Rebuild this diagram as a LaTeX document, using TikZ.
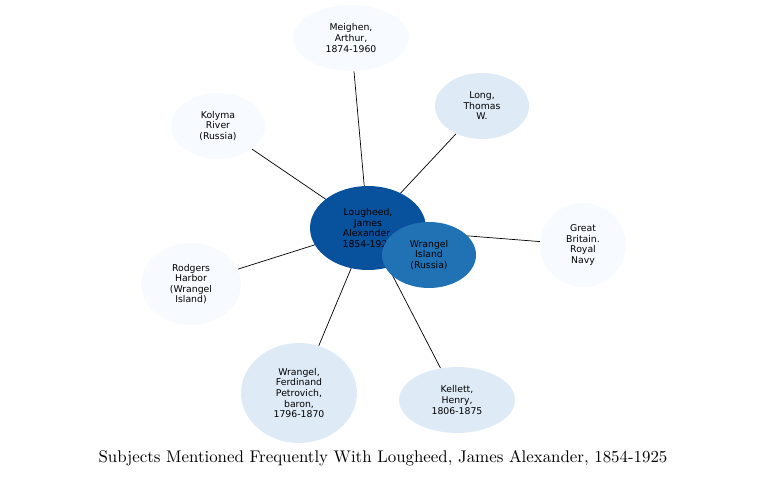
\documentclass[tikz,border=0pt]{standalone}
\usepackage{fontspec}
\newfontfamily\dejavu{DejaVu Sans}
\definecolor{pale}{HTML}{F7FBFF}
\definecolor{light}{HTML}{DEEBF7}
\definecolor{deep}{HTML}{08519C}
\definecolor{mid}{HTML}{2171B5}
\tikzset{
  subj/.style={ellipse,inner sep=0pt,align=center,font=\dejavu\fontsize{5.3}{6}\selectfont},
}
\usetikzlibrary{shapes.geometric}
\begin{document}
\begin{tikzpicture}[x=0.02cm,y=-0.02cm]
		\useasboundingbox (0,0) rectangle (767,479);
		\path (351,38) node[subj,fill=pale,minimum width=116\pgflinewidth*0+2.32cm,minimum height=1.32cm] (me) {Meighen,\\Arthur,\\1874-1960};
		\path (482,106) node[subj,fill=light,minimum width=1.88cm,minimum height=1.32cm] (lo) {Long,\\Thomas\\W.};
		\path (218,126) node[subj,fill=pale,minimum width=1.88cm,minimum height=1.32cm] (ko) {Kolyma\\River\\(Russia)};
		\path (583,245) node[subj,fill=pale,minimum width=1.72cm,minimum height=1.68cm] (gb) {Great\\Britain.\\Royal\\Navy};
		\path (191,284) node[subj,fill=pale,minimum width=2.0cm,minimum height=1.64cm] (ro) {Rodgers\\Harbor\\(Wrangel\\Island)};
		\path (299,393) node[subj,fill=light,minimum width=2.32cm,minimum height=2.0cm] (wf) {Wrangel,\\Ferdinand\\Petrovich,\\baron,\\1796-1870};
		\path (457,400) node[subj,fill=light,minimum width=2.32cm,minimum height=1.32cm] (ke) {Kellett,\\Henry,\\1806-1875};
		\path (368,228) coordinate (lc);
		\foreach \n in {me,lo,ko,gb,ro,wf,ke}
			\draw (lc) -- (\n);
		\path (368,228) node[subj,fill=deep,minimum width=2.32cm,minimum height=1.68cm] (lg) {Lougheed,\\James\\Alexander,\\1854-1925};
		\path (429,255) node[subj,fill=mid,minimum width=1.88cm,minimum height=1.32cm] (wi) {Wrangel\\Island\\(Russia)};
		\node[font=\fontsize{9.6}{11}\selectfont] (title) at (383,458) {Subjects Mentioned Frequently With Lougheed, James Alexander, 1854-1925};
\end{tikzpicture}
\end{document}
